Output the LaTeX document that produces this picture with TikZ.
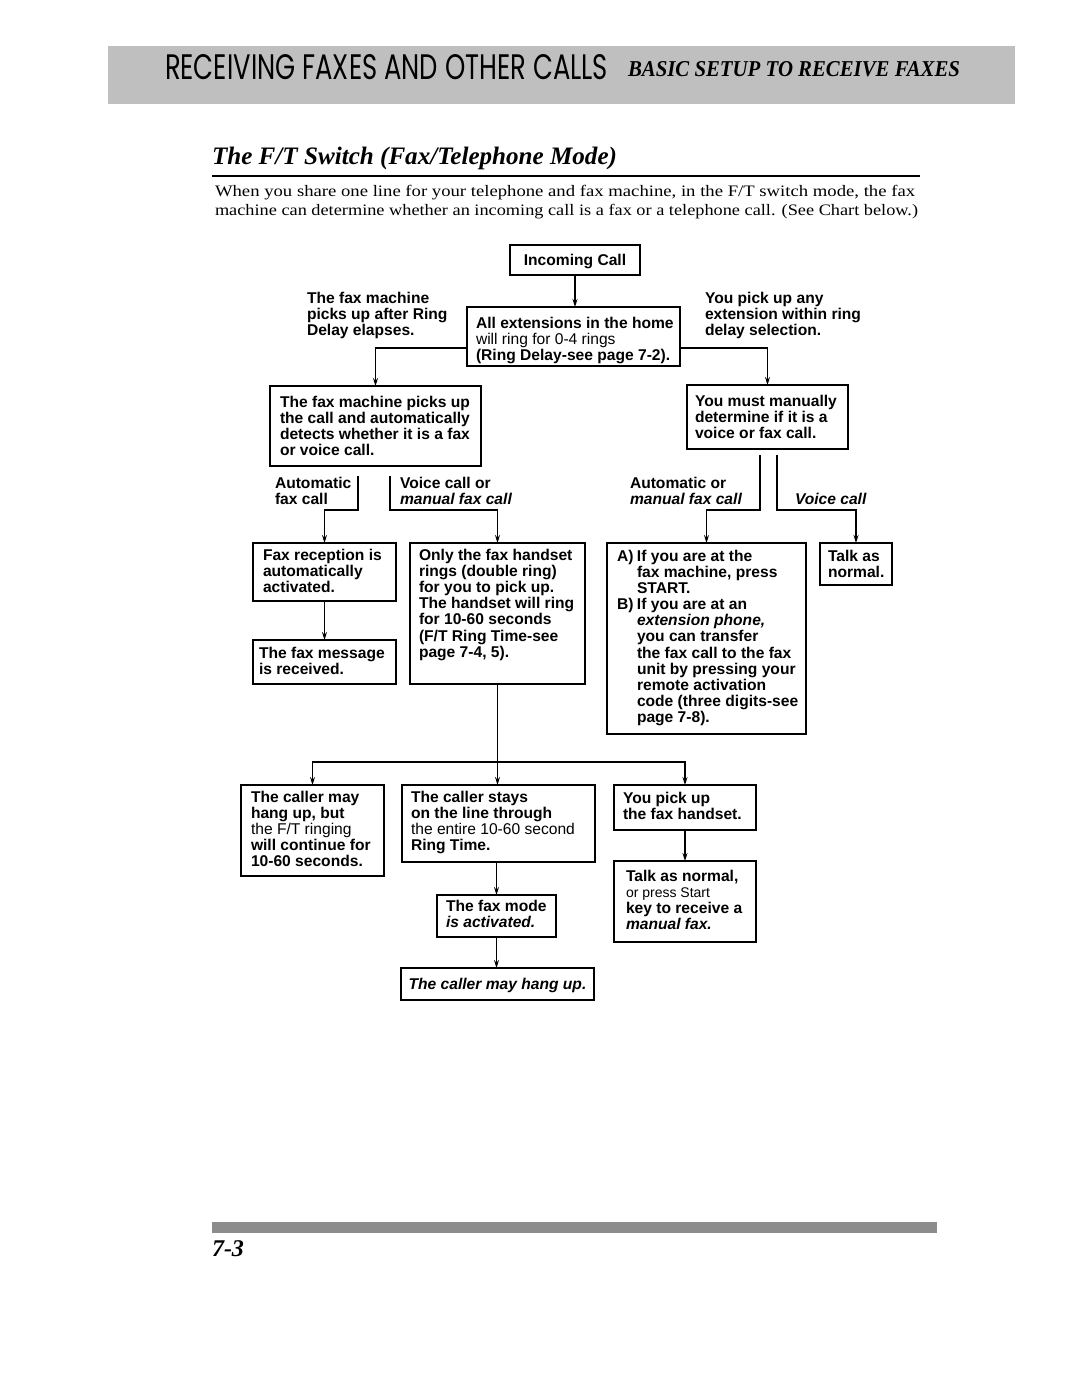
\documentclass[tikz,border=0pt]{standalone}
\usepackage{fontspec}
\usepackage{graphicx}
\usetikzlibrary{arrows.meta}
\setmainfont{Liberation Serif}
\newfontfamily\chartf{Liberation Sans}
\newfontfamily\headf{Poppins}
\newfontfamily\serf{Liberation Serif}
\newcommand\cf{\chartf\fontsize{15.6}{16}\selectfont\bfseries}
\tikzset{
  boxst/.style={draw=black, line width=1.8pt, inner ysep=0pt, outer sep=0pt, anchor=north west},
  lblst/.style={inner sep=0pt, outer sep=0pt, anchor=north west},
  conn/.style={line width=1.2pt},
  arr/.style={line width=1.2pt, -{Stealth[length=8pt,width=5pt]}},
  txt/.style={inner sep=0pt, outer sep=0pt, anchor=base west}
}
% name, x1, y1, x2, y2, pad, first-baseline offset, alignment, text
\newcommand\flowbox[9]{%
  \pgfmathsetmacro\bw{#4-#2-2*#6}%
  \pgfmathsetmacro\bh{#5-#3}%
  \node[boxst, inner xsep=#6pt] (#1) at (#2,#3)
    {\parbox[c][\bh pt][t]{\bw pt}{\cf #8\begin{tabular}[t]{@{}l@{}}\rule{0pt}{#7pt}#9\end{tabular}}};}
% name, x, ytop, text
\newcommand\flowlbl[4]{%
  \node[lblst] (#1) at (#2,#3)
    {\cf\begin{tabular}[t]{@{}l@{}}\rule{0pt}{17pt}#4\end{tabular}};}
\begin{document}
\begin{tikzpicture}[x=1pt,y=-1pt]
\fill[white] (0,0) rectangle (1080,1397);
\useasboundingbox (0,0) rectangle (1080,1397);

% header band
\fill[black!25] (108,46) rectangle (1015,104);
\node[txt] (hdr) at (165,80) {\resizebox{443pt}{25pt}{\headf RECEIVING FAXES AND OTHER CALLS}};
\node[txt] (hdrb) at (628,76) {\resizebox{332pt}{15pt}{\serf\bfseries\itshape BASIC SETUP TO RECEIVE FAXES}};

% title and intro
\node[txt] (title) at (212,164) {\resizebox{405pt}{!}{\serf\bfseries\itshape\fontsize{24}{28}\selectfont The F/T Switch (Fax/Telephone Mode)}};
\draw[line width=1.8pt] (212,176) -- (920,176);
\node[txt] (p1) at (215,196) {\resizebox{700pt}{\height}{\serf\fontsize{16}{19}\selectfont When you share one line for your telephone and fax machine, in the F/T switch mode, the fax}};
\node[txt] (p2) at (215,215) {\resizebox{703pt}{\height}{\serf\fontsize{16}{19}\selectfont machine can determine whether an incoming call is a fax or a telephone call. (See Chart below.)}};

% boxes
\flowbox{inc}{510}{245}{640}{275}{6}{20.5}{\centering}{Incoming Call}
\flowbox{ext}{467}{307}{680}{366}{9}{21.5}{}{All extensions in the home\\{\mdseries will ring for 0-4 rings}\\(Ring Delay-see page 7-2).}
\flowbox{fmp}{270}{386}{481}{466}{10}{21.5}{}{The fax machine picks up\\the call and automatically\\detects whether it is a fax\\or voice call.}
\flowbox{man}{687}{385}{848}{449}{8}{21.5}{}{You must manually\\determine if it is a\\voice or fax call.}
\flowbox{frc}{253}{543}{396}{601}{10}{17.5}{}{Fax reception is\\automatically\\activated.}
\flowbox{fmsg}{253}{640}{396}{684}{6}{18.5}{}{The fax message\\is received.}
\flowbox{hs}{410}{543}{585}{684}{9}{17.5}{}{Only the fax handset\\rings (double ring)\\for you to pick up.\\The handset will ring\\for 10-60 seconds\\(F/T Ring Time-see\\page 7-4, 5).}
\flowbox{ab}{607}{543}{806}{734}{10}{18.5}{}{\makebox[20pt][l]{A)}If you are at the\\\hspace*{20pt}fax machine, press\\\hspace*{20pt}START.\\\makebox[20pt][l]{B)}If you are at an\\\hspace*{20pt}\textit{extension phone,}\\\hspace*{20pt}you can transfer\\\hspace*{20pt}the fax call to the fax\\\hspace*{20pt}unit by pressing your\\\hspace*{20pt}remote activation\\\hspace*{20pt}code (three digits-see\\\hspace*{20pt}page 7-8).}
\flowbox{tan}{820}{543}{892}{585}{8}{18.5}{}{Talk as\\normal.}
\flowbox{cmh}{241}{785}{384}{876}{10}{17.5}{}{The caller may\\hang up, but\\{\mdseries the F/T ringing}\\will continue for\\10-60 seconds.}
\flowbox{cst}{402}{785}{595}{862}{9}{17.5}{}{The caller stays\\on the line through\\{\mdseries the entire 10-60 second}\\Ring Time.}
\flowbox{ypu}{614}{785}{756}{830}{9}{18.5}{}{You pick up\\the fax handset.}
\flowbox{fmode}{437}{895}{556}{937}{9}{16.5}{}{The fax mode\\\textit{is activated.}}
\flowbox{tnorm}{614}{861}{756}{942}{12}{20.5}{}{Talk as normal,\\{\mdseries\fontsize{14}{16}\selectfont or press Start}\\key to receive a\\\textit{manual fax.}}
\flowbox{hang}{401}{968}{594}{1000}{6}{21.5}{\centering}{\textit{The caller may hang up.}}

% free labels
\flowlbl{lfax}{307}{286.5}{The fax machine\\picks up after Ring\\Delay elapses.}
\flowlbl{lyou}{705}{286.5}{You pick up any\\extension within ring\\delay selection.}
\flowlbl{lauto}{275}{471.5}{Automatic\\fax call}
\flowlbl{lvoice}{400}{471.5}{Voice call or\\\textit{manual fax call}}
\flowlbl{lautor}{630}{471.5}{Automatic or\\\textit{manual fax call}}
\flowlbl{lvoicer}{795}{487.5}{\textit{Voice call}}

% connectors
\coordinate (jl) at (375,348);
\coordinate (jr) at (768,348);
\coordinate (s1) at (358,476);
\coordinate (a1) at (358,510);
\coordinate (s2) at (390,476);
\coordinate (a2) at (390,510);
\coordinate (s3) at (760,455);
\coordinate (a3) at (760,510);
\coordinate (s4) at (777,455);
\coordinate (a4) at (777,510);
\coordinate (jb) at (497.5,762);

\draw[arr] (inc.south) -- (inc.south |- ext.north);
\draw[arr] (ext.west |- jl) -| (fmp.north);
\draw[arr] (ext.east |- jr) -| (man.north);
\draw[arr] (s1) -- (a1) -| (frc.north);
\draw[arr] (s2) -- (a2) -| (hs.north);
\draw[arr] (s3) -- (a3) -| (ab.north);
\draw[arr] (s4) -- (a4) -| (tan.north);
\draw[arr] (frc.south) -- (frc.south |- fmsg.north);
\draw[arr] (hs.south) -- (hs.south |- cst.north);
\draw[arr] (jb) -| (cmh.north);
\draw[arr] (jb) -| (ypu.north);
\draw[arr] (fmode.north |- cst.south) -- (fmode.north);
\draw[arr] (ypu.south) -- (ypu.south |- tnorm.north);
\draw[arr] (fmode.south) -- (fmode.south |- hang.north);

% footer
\fill[black!45] (212,1222) rectangle (937,1233);
\node[txt] (pg) at (212,1256) {\serf\bfseries\itshape\fontsize{24}{28}\selectfont 7-3};
\end{tikzpicture}
\end{document}
